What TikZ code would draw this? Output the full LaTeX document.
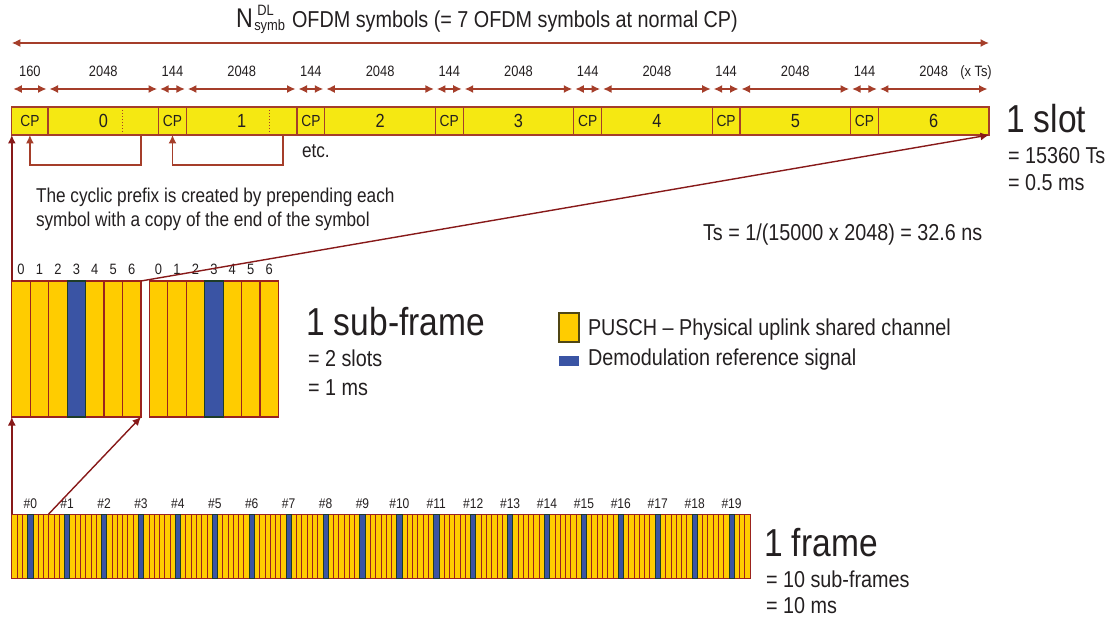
\documentclass[tikz,border=0pt]{standalone}
\usepackage{fontspec}
\setmainfont{Liberation Sans}[FakeStretch=0.86]
\usetikzlibrary{calc,arrows.meta}

\definecolor{txtgray}{RGB}{35,31,32}
\definecolor{dimred}{RGB}{165,62,42}
\definecolor{linkred}{RGB}{135,25,25}
\definecolor{slotyellow}{RGB}{245,232,18}
\definecolor{pusch}{RGB}{255,204,0}
\definecolor{dmrs}{RGB}{58,84,164}
\definecolor{dmrsedge}{RGB}{30,60,40}
\definecolor{colred}{RGB}{155,35,30}
\definecolor{legedge}{RGB}{80,70,20}

\newcommand{\fsz}[1]{\fontsize{#1}{#1}\selectfont}

\begin{document}
\begin{tikzpicture}[x=1pt,y=-1pt,>={Latex[length=8.5pt,width=8pt]},
  every node/.style={inner sep=0pt,outer sep=0pt,text=txtgray},
  seg/.style={draw=dimred,line width=1.3pt,fill=slotyellow,minimum height=28pt,anchor=west},
  dim/.style={dimred,line width=1.4pt},
  link/.style={linkred,line width=1.4pt},
  col/.style={draw=colred,line width=1.2pt,fill=pusch,minimum width=18.45pt,minimum height=136pt,anchor=north west},
  rscol/.style={col,fill=dmrs,draw=dmrsedge},
  fcol/.style={draw=colred,line width=0.7pt,fill=pusch,minimum width=5.273pt,minimum height=64pt,anchor=north west},
  frs/.style={fcol,fill=dmrs,draw=dmrsedge}]
  \useasboundingbox (0,0) rectangle (1118,620);

  % Parameters
  \def\sym{110.6}  % symbol width
  \def\cpw{27.8}   % cp width

  % Slot: CP and symbol boxes
  \node[seg,minimum width=36.2pt] (cp0) at (11.8,121) {\fsz{16}CP};
  \node[seg,minimum width=\sym pt] (s0) at (48,121) {\fsz{19}0};
  \foreach \k in {1,...,6}{
    \node[seg,minimum width=\cpw pt] (cp\k) at ({20.2+138.4*\k},121) {\fsz{16}CP};
    \node[seg,minimum width=\sym pt] (s\k) at ({48+138.4*\k},121) {\fsz{19}\k};
  }

  % Copied ends
  \draw[dimred,line width=1.1pt,dash pattern=on 1.5pt off 1.5pt] ($(s0.north east)+(-36.2,0)$) -- ($(s0.south east)+(-36.2,0)$);
  \draw[dimred,line width=1.1pt,dash pattern=on 1.5pt off 1.5pt] ($(s1.north east)+(-\cpw,0)$) -- ($(s1.south east)+(-\cpw,0)$);

  % Lengths in Ts
  \foreach \n/\v in {cp0/160,s0/2048,cp1/144,s1/2048,cp2/144,s2/2048,cp3/144,s3/2048,
                     cp4/144,s4/2048,cp5/144,s5/2048,cp6/144,s6/2048}{
    \draw[dim,<->] ($(\n.north west)+(1.5,-18)$) -- ($(\n.north east)+(-1.5,-18)$);
    \node[anchor=base] at ($(\n.north)+(0,-30)$) {\fsz{15}\v};
  }
  \node[anchor=base] (xts) at (976,77) {\fsz{15}(x Ts)};

  % Whole slot
  \draw[dim,<->] ($(cp0.north west)+(0,-64)$) -- ($(s6.north east)+(0,-64)$);
  \node[anchor=base west] (title) at (236,28) {{\fsz{27}N}\hspace{1.5pt}\rlap{\raisebox{12pt}{\hspace{3pt}\fsz{15}DL}}\raisebox{-3pt}{\fsz{15}symb}\hspace{7pt}{\fsz{23}OFDM symbols (= 7 OFDM symbols at normal CP)}};

  % Cyclic prefix brackets
  \draw[dim,->] ($(s0.south east)+(-17.6,0)$) -- ++(0,30) -| (cp0.south);
  \draw[dim,->] ($(s1.south east)+(-13.9,0)$) -- ++(0,30) -| (cp1.south);
  \node[anchor=base west] (etc) at (302,158) {\fsz{20}etc.};
  \node[anchor=base west] (cyc1) at (36,202.5) {\fsz{20}The cyclic prefix is created by prepending each};
  \node[anchor=base west] (cyc2) at (36,226.5) {\fsz{20}symbol with a copy of the end of the symbol};

  % Slot texts
  \node[anchor=base west] (slot) at (1006,133) {\fsz{39}1 slot};
  \node[anchor=base west] (slot1) at (1008,164) {\fsz{23}= 15360 Ts};
  \node[anchor=base west] (slot2) at (1008,190.5) {\fsz{23}= 0.5 ms};
  \node[anchor=base west] (ts) at (703,240.5) {\fsz{23}Ts = 1/(15000 x 2048) = 32.6 ns};

  % Sub-frame: two slots
  \foreach \i/\st in {0/col,1/col,2/col,4/col,5/col,6/col,3/rscol}{
    \node[\st] (a\i) at ({11.8+18.45*\i},281) {};
    \node[\st] (b\i) at ({149.3+18.45*\i},281) {};
    \node[anchor=base] at ($(a\i.north)+(0,-7)$) {\fsz{15}\i};
    \node[anchor=base] at ($(b\i.north)+(0,-7)$) {\fsz{15}\i};
  }
  \node[anchor=base west] (sub) at (306,335) {\fsz{39}1 sub-frame};
  \node[anchor=base west] (sub1) at (308,366.5) {\fsz{23}= 2 slots};
  \node[anchor=base west] (sub2) at (308,395) {\fsz{23}= 1 ms};

  % Legend
  \node[fill=pusch,draw=legedge,line width=1.2pt,minimum width=20pt,minimum height=29pt] (lgp) at (569,327.5) {};
  \node[anchor=base west] (lgptxt) at (588,335.5) {\fsz{23}PUSCH -- Physical uplink shared channel};
  \node[fill=dmrs,minimum width=20pt,minimum height=10pt] (lgd) at (569,361) {};
  \node[anchor=base west] (lgdtxt) at (588,365.5) {\fsz{23}Demodulation reference signal};

  % Frame: 20 slots of 7 symbols
  \foreach \i in {0,...,139}{
    \pgfmathtruncatemacro{\m}{mod(\i,7)}
    \ifnum\m=3\else
      \node[fcol] (f\i) at ({11.8+5.273*\i},514) {};
    \fi
  }
  \foreach \k in {0,...,19}{
    \pgfmathtruncatemacro{\j}{7*\k+3}
    \node[frs] (f\j) at ({11.8+5.273*\j},514) {};
    \node[anchor=base] at ($(f\j.north)+(0,-5.5)$) {\fsz{14}\#\k};
  }
  \node[anchor=base west] (frame) at (764,556.5) {\fsz{39}1 frame};
  \node[anchor=base west] (frame1) at (766,587) {\fsz{23}= 10 sub-frames};
  \node[anchor=base west] (frame2) at (766,613) {\fsz{23}= 10 ms};

  % Zoom links
  \draw[link,->] (a0.north west) -- (cp0.south west);
  \draw[link,->] (a6.north east) -- (s6.south east);
  \draw[link,->] (f0.north west) -- (a0.south west);
  \draw[link,->] (f6.north east) -- (a6.south east);

\end{tikzpicture}
\end{document}
